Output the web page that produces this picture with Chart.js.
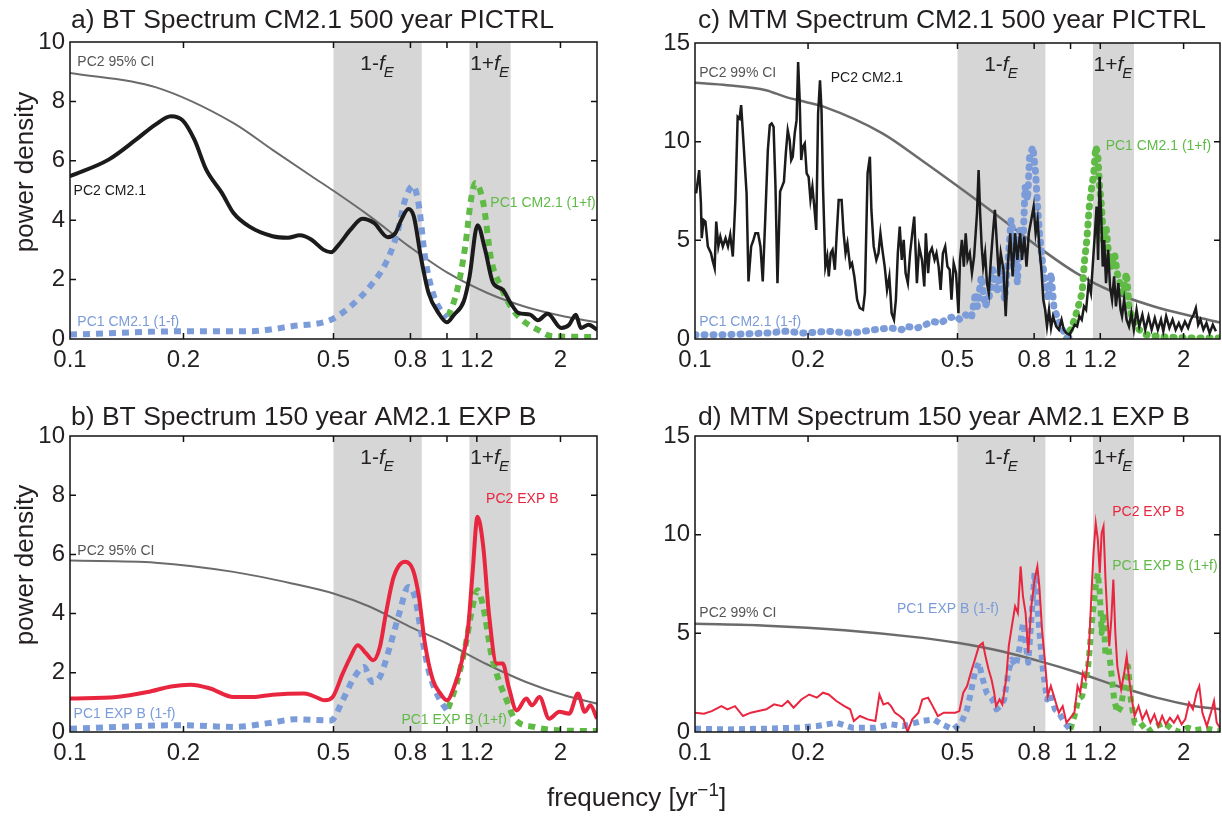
<!DOCTYPE html>
<html lang="en">
<head>
  <meta charset="UTF-8" />
  <title>BT and MTM spectra</title>
  <script src="https://cdn.jsdelivr.net/npm/chart.js"></script>
  <style>
    body { margin: 0; background: #fff; }
    #wrap { position: relative; width: 1222px; height: 825px; overflow: hidden; }
    #wrap canvas { position: absolute; }
    #xlabel {
      position: absolute; left: 547px; top: 782px;
      font: 26px "Liberation Sans", Arial, sans-serif; line-height: 30px; color: #231f20;
      white-space: nowrap;
    }
    #xlabel sup { font-size: 19px; line-height: 0; vertical-align: 10px; }
  </style>
</head>
<body>
  <div id="wrap">
    <canvas id="pa" width="611" height="390" style="left:0;top:0"></canvas>
    <canvas id="pc" width="611" height="390" style="left:611px;top:0"></canvas>
    <canvas id="pb" width="611" height="390" style="left:0;top:390px"></canvas>
    <canvas id="pd" width="611" height="390" style="left:611px;top:390px"></canvas>
    <div id="xlabel">frequency [yr<sup>−1</sup>]</div>
  </div>

  <script>
    // axis ticks and the two shaded bands (1-fE, 1+fE)
    const freqTicks = [0.1, 0.2, 0.5, 0.8, 1, 1.2, 2];
    const bandMinus = [0.5, 0.857];
    const bandPlus = [1.147, 1.475];

    // a) BT spectrum CM2.1 500 yr PICTRL
    const aPc2Freq = [0.1, 0.1266, 0.1496, 0.1685, 0.1854, 0.199, 0.2138, 0.2298, 0.2528, 0.2715,
      0.2986, 0.3445, 0.379, 0.4071, 0.4374, 0.4697, 0.4926, 0.5166, 0.5549, 0.5961,
      0.6403, 0.6965, 0.7298, 0.7568, 0.7898, 0.8166, 0.852, 0.8935, 0.949, 1.0,
      1.044, 1.108, 1.148, 1.205, 1.262, 1.325, 1.406, 1.475, 1.546, 1.662,
      1.742, 1.849, 2.01, 2.109, 2.197, 2.265, 2.376, 2.5];
    const aPc2 = [5.48, 6.04, 6.71, 7.22, 7.50, 7.36, 6.71, 5.70, 4.92, 4.24,
      3.79, 3.46, 3.41, 3.49, 3.34, 3.01, 2.92, 3.18, 3.68, 4.05,
      3.91, 3.43, 3.57, 4.02, 4.38, 4.13, 2.78, 1.55, 0.88, 0.56,
      0.82, 1.27, 2.11, 3.83, 3.01, 1.89, 1.66, 1.21, 0.88, 0.82,
      0.63, 0.85, 0.37, 0.48, 0.82, 0.37, 0.48, 0.31];
    const aPc1mFreq = [0.1, 0.199, 0.2986, 0.3878, 0.4926, 0.5549, 0.6247, 0.6885, 0.7383, 0.7743,
      0.8128, 0.8426, 0.874, 0.9177, 0.9718, 1.0];
    const aPc1m = [0.15, 0.26, 0.26, 0.43, 0.65, 1.1, 1.77, 2.56, 3.57, 4.69,
      5.16, 4.47, 2.78, 1.55, 0.88, 0.71];
    const aPc1pFreq = [1.007, 1.06, 1.118, 1.158, 1.19, 1.248, 1.31, 1.389, 1.475, 1.58, 1.742, 1.91, 2.5];
    const aPc1p = [0.76, 1.55, 3.12, 4.69, 5.25, 4.58, 2.67, 1.77, 1.1, 0.65, 0.31, 0.09, 0.07];
    const aCiFreq = [0.1, 0.1685, 0.2715, 0.3445, 0.4374, 0.5, 0.6247, 0.793, 1.0, 1.28, 1.62, 2.05, 2.5];
    const aCi = [8.96, 8.48, 7.27, 6.37, 5.48, 4.99, 4.13, 3.12, 2.24, 1.55, 1.08, 0.76, 0.56];

    // b) BT spectrum 150 yr AM2.1 EXP B
    const bPc2Freq = [0.1, 0.1328, 0.1606, 0.1854, 0.2088, 0.2353, 0.2715, 0.3057, 0.3445, 0.4168,
      0.4374, 0.4745, 0.4976, 0.5288, 0.5549, 0.5793, 0.6105, 0.6372, 0.6636, 0.6885,
      0.7222, 0.7743, 0.8128, 0.8426, 0.874, 0.9177, 0.9604, 1.0, 1.044, 1.096,
      1.136, 1.169, 1.205, 1.248, 1.292, 1.355, 1.406, 1.458, 1.53, 1.623,
      1.681, 1.76, 1.866, 1.988, 2.109, 2.226, 2.32, 2.4, 2.5];
    const bPc2 = [1.13, 1.18, 1.35, 1.54, 1.60, 1.47, 1.18, 1.18, 1.26, 1.30,
      1.24, 1.07, 1.18, 1.97, 2.54, 2.93, 2.65, 2.42, 2.87, 4.00,
      5.24, 5.75, 5.47, 4.57, 2.99, 1.75, 1.30, 1.07, 1.52, 2.42,
      3.44, 5.36, 7.27, 6.26, 4.00, 2.31, 2.31, 1.52, 0.73, 1.13,
      0.90, 1.18, 0.45, 0.68, 0.62, 1.30, 0.68, 0.90, 0.45];
    const bPc1mFreq = [0.1, 0.199, 0.2715, 0.3364, 0.3975, 0.4926, 0.5288, 0.5681, 0.603, 0.6326,
      0.6636, 0.705, 0.747, 0.7898, 0.8216, 0.852, 0.8935, 0.949, 1.0];
    const bPc1m = [0.11, 0.23, 0.17, 0.30, 0.43, 0.39, 1.07, 1.86, 2.20, 1.69,
      1.86, 2.87, 4.00, 4.90, 4.57, 3.44, 2.09, 1.18, 0.73];
    const bPc1pFreq = [1.007, 1.06, 1.118, 1.169, 1.205, 1.248, 1.31, 1.372, 1.44, 1.51, 1.70, 1.96, 2.5];
    const bPc1p = [0.79, 1.63, 2.87, 4.23, 4.79, 4.23, 2.65, 1.75, 1.07, 0.45, 0.17, 0.06, 0.03];
    const bCiFreq = [0.1, 0.1685, 0.2715, 0.3878, 0.5, 0.6247, 0.793, 1.0, 1.28, 1.62, 2.05, 2.5];
    const bCi = [5.79, 5.72, 5.41, 5.02, 4.68, 4.23, 3.57, 2.99, 2.28, 1.69, 1.24, 0.96];

    // c) MTM spectrum CM2.1 500 yr PICTRL
    const cPc2Freq = [0.1007, 0.1026, 0.1037, 0.1042, 0.1054, 0.1066, 0.1082, 0.1103, 0.1113, 0.1128,
      0.1139, 0.1154, 0.1168, 0.1186, 0.1206, 0.1224, 0.1241, 0.1261, 0.1281, 0.1299,
      0.1314, 0.1327, 0.1345, 0.1372, 0.1388, 0.1411, 0.1431, 0.1448, 0.1472, 0.1494,
      0.1515, 0.1538, 0.1563, 0.1582, 0.1600, 0.1619, 0.1638, 0.1658, 0.1685, 0.1705,
      0.1725, 0.1745, 0.1766, 0.1787, 0.1804, 0.1821, 0.1843, 0.1864, 0.1882, 0.1900,
      0.1918, 0.1937, 0.1960, 0.1983, 0.2007, 0.2030, 0.2054, 0.2078, 0.2103, 0.2127,
      0.2152, 0.2172, 0.2192, 0.2224, 0.2250, 0.2271, 0.2298, 0.2324, 0.2357, 0.2385,
      0.2413, 0.2457, 0.2487, 0.2517, 0.2546, 0.2589, 0.2619, 0.2656, 0.2702, 0.2747,
      0.2801, 0.2834, 0.2881, 0.2922, 0.2949, 0.2991, 0.3040, 0.3080, 0.3117, 0.3155,
      0.3200, 0.3246, 0.3292, 0.3339, 0.3387, 0.3427, 0.3468, 0.3509, 0.3553, 0.3595,
      0.3637, 0.3688, 0.3739, 0.3790, 0.3835, 0.3898, 0.3952, 0.4022, 0.4079, 0.4118,
      0.4176, 0.4215, 0.4274, 0.4344, 0.4396, 0.4454, 0.4508, 0.4572, 0.4637, 0.4701,
      0.4766, 0.4819, 0.4884, 0.4956, 0.5029, 0.5077, 0.5137, 0.5198, 0.5258, 0.5318,
      0.5391, 0.5463, 0.5536, 0.5635, 0.5690, 0.5744, 0.5799, 0.5853, 0.5921, 0.5990,
      0.6058, 0.6135, 0.6212, 0.6288, 0.6364, 0.6441, 0.6518, 0.6628, 0.6720, 0.6804,
      0.6908, 0.7011, 0.7115, 0.7218, 0.7339, 0.7426, 0.7529, 0.7633, 0.7742, 0.7859,
      0.7975, 0.8073, 0.8170, 0.8267, 0.8365, 0.8462, 0.8559, 0.8654, 0.8763, 0.8872,
      0.8982, 0.9157, 0.9310, 0.9464, 0.9595, 0.9744, 0.9916, 1.011, 1.026, 1.041,
      1.056, 1.071, 1.086, 1.100, 1.117, 1.133, 1.150, 1.161, 1.173, 1.184,
      1.195, 1.206, 1.218, 1.229, 1.243, 1.259, 1.274, 1.290, 1.306, 1.321,
      1.340, 1.359, 1.371, 1.389, 1.410, 1.431, 1.452, 1.474, 1.499, 1.524,
      1.553, 1.581, 1.613, 1.644, 1.676, 1.708, 1.741, 1.766, 1.797, 1.833,
      1.869, 1.905, 1.942, 1.975, 2.016, 2.056, 2.091, 2.126, 2.156, 2.187,
      2.218, 2.258, 2.301, 2.346, 2.392, 2.438];
    const cPc2 = [7.38, 8.56, 6.88, 5.11, 6.03, 5.95, 4.69, 4.35, 4.01, 3.59,
      5.95, 4.69, 5.19, 4.69, 5.11, 4.69, 5.28, 4.18, 7.05, 11.26,
      11.17, 11.85, 10.08, 7.38, 2.92, 4.69, 5.02, 5.36, 5.36, 4.69,
      2.92, 6.03, 9.57, 10.84, 10.92, 10.75, 7.72, 2.83, 7.47, 7.72,
      7.97, 9.41, 10.58, 10.08, 9.07, 9.24, 10.42, 11.09, 14.04, 12.10,
      9.07, 9.74, 9.91, 8.39, 8.22, 7.05, 7.72, 6.71, 5.53, 11.43,
      13.11, 11.60, 7.72, 3.67, 4.18, 3.17, 4.35, 4.52, 3.51, 5.36,
      7.05, 7.05, 5.36, 4.35, 4.85, 3.67, 3.84, 3.17, 1.99, 1.57,
      1.48, 2.33, 8.39, 9.24, 6.54, 4.69, 4.01, 4.35, 5.36, 4.52,
      3.67, 2.49, 3.17, 1.31, 0.98, 1.99, 4.35, 5.70, 4.01, 5.02,
      3.34, 2.83, 4.35, 5.36, 6.20, 2.83, 4.69, 4.01, 2.66, 5.36,
      3.34, 4.35, 4.60, 4.01, 4.35, 3.67, 2.49, 4.35, 4.69, 3.67,
      3.51, 1.99, 3.84, 3.34, 1.31, 4.01, 5.02, 3.67, 5.36, 4.01,
      4.35, 3.34, 4.18, 6.37, 8.56, 6.37, 4.69, 3.67, 4.35, 2.83,
      2.33, 4.01, 5.36, 6.54, 4.85, 3.17, 4.35, 3.51, 1.15, 3.67,
      5.36, 3.17, 5.36, 4.01, 5.36, 4.01, 5.19, 3.67, 5.36, 6.03,
      6.71, 5.36, 6.03, 4.52, 3.51, 1.99, 1.48, 0.64, 1.48, 0.56,
      1.15, 0.64, 0.47, 0.98, 0.47, 0.30, 0.22, 0.47, 0.72, 0.64,
      1.15, 0.98, 1.65, 1.48, 2.83, 2.33, 4.18, 5.36, 6.71, 4.01,
      8.22, 6.37, 3.67, 5.02, 2.83, 4.52, 2.66, 1.99, 3.17, 1.65,
      2.83, 1.48, 1.15, 1.99, 0.98, 0.64, 1.31, 0.47, 1.48, 0.64,
      1.23, 0.47, 1.15, 0.47, 1.06, 0.47, 0.98, 0.39, 1.15, 0.56,
      0.98, 0.47, 0.81, 0.47, 0.89, 0.56, 0.98, 1.23, 1.57, 0.72,
      0.98, 0.47, 0.81, 0.30, 0.72, 0.39];
    const cPc1mFreq = [0.1000, 0.1218, 0.1545, 0.1741, 0.1960, 0.2261, 0.2606, 0.3007, 0.3311, 0.3553,
      0.3637, 0.3909, 0.4098, 0.4293, 0.4508, 0.4724, 0.4956, 0.5077, 0.5258, 0.5445,
      0.5581, 0.5649, 0.5785, 0.5921, 0.6058, 0.6212, 0.6364, 0.6518, 0.6674, 0.6821,
      0.6943, 0.7080, 0.7218, 0.7339, 0.7460, 0.7564, 0.7684, 0.7781, 0.7936, 0.8073,
      0.8170, 0.8267, 0.8403, 0.8559, 0.8720, 0.8872, 0.9026, 0.9201, 0.9420, 0.9746, 0.9916];
    const cPc1m = [0.22, 0.22, 0.30, 0.39, 0.30, 0.39, 0.30, 0.47, 0.56, 0.47,
      0.64, 0.56, 0.72, 0.89, 0.81, 1.06, 1.15, 0.98, 1.23, 1.06,
      2.33, 1.65, 3.17, 1.65, 1.99, 3.51, 2.33, 3.67, 1.99, 4.01,
      6.03, 5.02, 2.83, 5.70, 4.35, 7.72, 7.05, 9.24, 9.74, 8.39,
      6.71, 5.36, 4.01, 2.83, 1.99, 3.34, 1.65, 1.15, 0.64, 0.13, 0.05];
    const cPc1pFreq = [0.9746, 0.9987, 1.024, 1.048, 1.073, 1.090, 1.105, 1.122, 1.139, 1.153,
      1.167, 1.181, 1.195, 1.209, 1.223, 1.243, 1.262, 1.284, 1.309, 1.331,
      1.355, 1.382, 1.408, 1.432, 1.463, 1.524, 1.589, 1.755, 2.116, 2.5];
    const cPc1p = [0.0, 0.47, 0.98, 1.65, 2.33, 4.01, 5.02, 6.71, 7.72, 8.39,
      9.74, 9.41, 7.72, 6.71, 5.02, 5.70, 4.35, 3.67, 4.35, 3.34,
      2.83, 2.33, 3.34, 1.65, 0.98, 0.47, 0.22, 0.10, 0.05, 0.05];
    const cCiFreq = [0.1, 0.1218, 0.1545, 0.1741, 0.196, 0.2208, 0.3155, 0.4003, 0.4956, 0.6441,
      0.817, 1.036, 1.315, 1.668, 2.116, 2.5];
    const cCi = [12.98, 12.86, 12.61, 12.27, 12.02, 11.76, 10.42, 9.07, 7.80, 6.20,
      4.69, 3.34, 2.33, 1.65, 1.15, 0.84];

    // d) MTM spectrum 150 yr AM2.1 EXP B
    const dPc2Freq = [0.1000, 0.1056, 0.1108, 0.1176, 0.1220, 0.1278, 0.1342, 0.1408, 0.1475, 0.1549,
      0.1624, 0.1704, 0.1767, 0.1830, 0.1920, 0.2014, 0.2111, 0.2191, 0.2270, 0.2379,
      0.2499, 0.2589, 0.2648, 0.2749, 0.2883, 0.3022, 0.3098, 0.3174, 0.3265, 0.3327,
      0.3405, 0.3508, 0.3593, 0.3679, 0.3789, 0.3934, 0.4030, 0.4175, 0.4270, 0.4433,
      0.4596, 0.4760, 0.4934, 0.5056, 0.5180, 0.5303, 0.5425, 0.5563, 0.5702, 0.5839,
      0.5936, 0.6050, 0.6160, 0.6262, 0.6332, 0.6472, 0.6581, 0.6737, 0.6847, 0.6977,
      0.7117, 0.7240, 0.7363, 0.7469, 0.7591, 0.7716, 0.7863, 0.8020, 0.8159, 0.8258,
      0.8396, 0.8555, 0.8698, 0.8861, 0.9084, 0.9307, 0.9530, 0.9753, 0.9988, 1.024,
      1.044, 1.061, 1.079, 1.097, 1.118, 1.137, 1.151, 1.167, 1.182, 1.196,
      1.210, 1.224, 1.239, 1.252, 1.268, 1.284, 1.300, 1.316, 1.332, 1.364,
      1.390, 1.411, 1.429, 1.456, 1.481, 1.517, 1.553, 1.592, 1.632, 1.672,
      1.713, 1.754, 1.793, 1.839, 1.884, 1.930, 1.976, 2.020, 2.068, 2.117,
      2.166, 2.202, 2.244, 2.306, 2.364, 2.410, 2.450, 2.499];
    const dPc2 = [0.98, 0.93, 1.06, 1.31, 1.15, 1.31, 0.81, 0.98, 1.06, 1.15,
      1.40, 1.31, 1.57, 1.23, 1.65, 1.90, 1.74, 1.99, 1.90, 1.57,
      1.31, 1.15, 0.56, 0.81, 0.64, 0.56, 1.90, 1.40, 1.48, 1.31,
      0.98, 0.81, 0.64, 0.0, 0.64, 0.98, 1.65, 1.74, 1.40, 0.81,
      0.98, 0.98, 0.98, 1.06, 1.99, 2.33, 3.00, 3.67, 4.35, 4.52,
      3.84, 3.17, 2.66, 1.99, 1.31, 1.65, 1.40, 2.66, 4.35, 5.36,
      6.37, 6.03, 8.39, 6.88, 6.03, 4.01, 6.37, 7.72, 8.39, 7.38,
      5.19, 3.51, 1.82, 2.33, 1.65, 0.98, 1.31, 0.47, 0.72, 0.98,
      2.33, 1.99, 3.00, 2.66, 4.01, 7.05, 9.07, 10.58, 9.74, 8.06,
      10.08, 10.42, 7.72, 6.03, 4.35, 5.70, 7.72, 5.02, 3.34, 2.16,
      3.00, 3.84, 2.83, 1.65, 0.81, 1.31, 0.64, 1.06, 0.47, 0.89,
      0.30, 0.81, 0.39, 0.72, 0.47, 0.81, 0.39, 0.64, 1.48, 1.15,
      1.99, 2.33, 0.98, 0.30, 0.98, 1.57, 0.47, 0.22];
    const dPc1mFreq = [0.1000, 0.1220, 0.1549, 0.1873, 0.2111, 0.2379, 0.2621, 0.3022, 0.3327, 0.3576,
      0.4030, 0.4322, 0.4542, 0.4873, 0.5118, 0.5303, 0.5425, 0.5563, 0.5702, 0.5839,
      0.5978, 0.6191, 0.6347, 0.6503, 0.6659, 0.6819, 0.6977, 0.7153, 0.7328, 0.7469,
      0.7591, 0.7716, 0.7863, 0.8020, 0.8159, 0.8298, 0.8456, 0.8659, 0.8861, 0.9084,
      0.9307, 0.9642, 0.9988];
    const dPc1m = [0.17, 0.13, 0.17, 0.22, 0.30, 0.47, 0.22, 0.22, 0.39, 0.30,
      0.56, 0.64, 0.39, 0.13, 0.47, 1.15, 1.99, 3.00, 3.51, 2.66,
      1.99, 1.65, 1.15, 1.31, 1.65, 3.00, 3.67, 3.34, 4.35, 5.53,
      4.52, 3.51, 5.70, 8.06, 6.37, 4.69, 3.00, 1.65, 1.99, 1.15,
      0.98, 0.47, 0.13];
    const dPc1pFreq = [0.9988, 1.024, 1.049, 1.074, 1.094, 1.112, 1.130, 1.146, 1.167, 1.182,
      1.196, 1.210, 1.224, 1.239, 1.261, 1.284, 1.306, 1.332, 1.364, 1.396,
      1.423, 1.447, 1.481, 1.534, 1.604, 1.693, 1.776, 1.866, 1.955, 2.050,
      2.149, 2.306, 2.499];
    const dPc1p = [0.13, 0.81, 1.65, 1.82, 2.66, 3.17, 4.69, 6.03, 7.38, 8.06,
      7.05, 5.02, 6.03, 3.84, 4.35, 3.00, 1.65, 0.98, 1.31, 2.66,
      3.34, 1.65, 0.47, 0.47, 0.0, 0.30, 0.47, 0.13, 0.0, 0.22,
      0.10, 0.17, 0.05];
    const dCiFreq = [0.1, 0.1549, 0.2499, 0.4030, 0.4996, 0.6503, 0.8258, 1.049, 1.332, 1.693, 2.149, 2.499];
    const dCi = [5.48, 5.39, 5.16, 4.77, 4.52, 4.10, 3.59, 3.00, 2.33, 1.74, 1.31, 1.15];

    // colours
    const BLACK = '#1b1b1b', BLUE = '#7b9cd9', GREEN = '#5fba46', RED = '#e9263f';
    const GRAY = '#6b6b6b', SHADE = '#d6d6d6', TEXT = '#231f20';
    const FONT = '"Liberation Sans", Arial, sans-serif';

    const pts = (fs, vs) => fs.map((f, i) => ({ x: f, y: vs[i] }));

    function solid(fs, vs, color, width, smooth) {
      return { data: pts(fs, vs), borderColor: color, borderWidth: width,
        cubicInterpolationMode: smooth ? 'monotone' : 'default', tension: 0 };
    }
    function dotted(fs, vs, color, width, dash, cap, smooth) {
      return { data: pts(fs, vs), borderColor: color, borderWidth: width, borderDash: dash,
        borderCapStyle: cap, borderJoinStyle: 'round',
        cubicInterpolationMode: smooth ? 'monotone' : 'default', tension: 0 };
    }

    // draws "1-fE" style band labels, f italic with subscript E
    function bandLabel(ctx, pre, cx, baseY) {
      ctx.font = '21px ' + FONT;
      const w1 = ctx.measureText(pre).width;
      ctx.font = 'italic 21px ' + FONT;
      const w2 = ctx.measureText('f').width;
      ctx.font = 'italic 15px ' + FONT;
      const w3 = ctx.measureText('E').width;
      let x = cx - (w1 + w2 + w3) / 2;
      ctx.fillStyle = TEXT;
      ctx.textAlign = 'left';
      ctx.textBaseline = 'alphabetic';
      ctx.font = '21px ' + FONT;
      ctx.fillText(pre, x, baseY);
      x += w1;
      ctx.font = 'italic 21px ' + FONT;
      ctx.fillText('f', x, baseY);
      x += w2;
      ctx.font = 'italic 15px ' + FONT;
      ctx.fillText('E', x - 1, baseY + 7);
    }

    function decoPlugin(cfg) {
      return {
        id: 'deco',
        beforeDatasetsDraw(chart) {
          const { ctx, chartArea: a, scales: { x } } = chart;
          ctx.save();
          ctx.fillStyle = SHADE;
          [bandMinus, bandPlus].forEach(([lo, hi]) => {
            const x0 = x.getPixelForValue(lo), x1 = x.getPixelForValue(hi);
            ctx.fillRect(x0, a.top, x1 - x0, a.bottom - a.top);
          });
          ctx.restore();
        },
        afterDatasetsDraw(chart) {
          const { ctx, chartArea: a, scales: { x, y } } = chart;
          ctx.save();
          // series labels
          cfg.labels.forEach(l => {
            ctx.font = '14px ' + FONT;
            ctx.fillStyle = l.c;
            ctx.textAlign = 'left';
            ctx.textBaseline = 'middle';
            ctx.fillText(l.t, x.getPixelForValue(l.x), y.getPixelForValue(l.y));
          });
          // band labels
          const gm = Math.sqrt(bandMinus[0] * bandMinus[1]);
          const gp = Math.sqrt(bandPlus[0] * bandPlus[1]);
          bandLabel(ctx, '1-', x.getPixelForValue(gm), a.top + 28);
          bandLabel(ctx, '1+', x.getPixelForValue(gp), a.top + 28);

          // frame with inward ticks
          ctx.strokeStyle = '#111';
          ctx.lineWidth = 1.5;
          ctx.strokeRect(a.left, a.top, a.right - a.left, a.bottom - a.top);
          ctx.beginPath();
          freqTicks.forEach(v => {
            const px = x.getPixelForValue(v);
            if (px <= a.left + 1) return;
            ctx.moveTo(px, a.bottom); ctx.lineTo(px, a.bottom - 6);
            ctx.moveTo(px, a.top); ctx.lineTo(px, a.top + 6);
          });
          y.ticks.forEach(t => {
            const py = y.getPixelForValue(t.value);
            if (py >= a.bottom - 1 || py <= a.top + 1) return;
            ctx.moveTo(a.left, py); ctx.lineTo(a.left + 6, py);
            ctx.moveTo(a.right, py); ctx.lineTo(a.right - 6, py);
          });
          ctx.stroke();
          ctx.restore();
        },
        afterDraw(chart) {
          const { ctx, chartArea: a } = chart;
          ctx.save();
          ctx.fillStyle = TEXT;
          ctx.font = '26.5px ' + FONT;
          ctx.textAlign = 'left';
          ctx.textBaseline = 'alphabetic';
          ctx.fillText(cfg.title, cfg.titleX, cfg.titleY);
          if (cfg.yTitle) {
            ctx.translate(26, cfg.yTitleY);
            ctx.rotate(-Math.PI / 2);
            ctx.textAlign = 'center';
            ctx.textBaseline = 'middle';
            ctx.font = '26px ' + FONT;
            ctx.fillText('power density', 0, 0);
          }
          ctx.restore();
        }
      };
    }

    function makeChart(id, cfg) {
      const tickFont = { family: FONT, size: 24 };
      return new Chart(document.getElementById(id), {
        type: 'line',
        data: { datasets: cfg.datasets },
        options: {
          responsive: false,
          animation: false,
          devicePixelRatio: 1,
          layout: { padding: { left: 0, top: cfg.top, right: cfg.right, bottom: 0 } },
          plugins: { legend: { display: false }, tooltip: { enabled: false } },
          elements: { point: { radius: 0 } },
          scales: {
            x: {
              type: 'logarithmic', min: 0.1, max: 2.5,
              afterBuildTicks: s => { s.ticks = freqTicks.map(v => ({ value: v })); },
              afterFit: s => { s.height = cfg.xH; },
              grid: { display: false, drawTicks: false }, border: { display: false },
              ticks: { font: tickFont, color: TEXT, padding: 7, autoSkip: false, maxRotation: 0,
                callback: v => String(v) }
            },
            y: {
              min: 0, max: cfg.yMax,
              afterFit: s => { s.width = cfg.yW; },
              grid: { display: false, drawTicks: false }, border: { display: false },
              ticks: { font: tickFont, color: TEXT, padding: 5, stepSize: cfg.yStep }
            }
          }
        },
        plugins: [decoPlugin(cfg)]
      });
    }

    // a)
    makeChart('pa', {
      top: 42, right: 14, xH: 51, yW: 70, yMax: 10, yStep: 2,
      title: 'a) BT Spectrum CM2.1 500 year PICTRL', titleX: 71, titleY: 28,
      yTitle: true, yTitleY: 172,
      datasets: [
        solid(aPc2Freq, aPc2, BLACK, 4, true),
        dotted(aPc1mFreq, aPc1m, BLUE, 6, [7, 6], 'butt', true),
        dotted(aPc1pFreq, aPc1p, GREEN, 6, [7, 6], 'butt', true),
        solid(aCiFreq, aCi, GRAY, 2, true)
      ],
      labels: [
        { t: 'PC2 95% CI', x: 0.1046, y: 9.33, c: '#555' },
        { t: 'PC2 CM2.1', x: 0.1022, y: 4.97, c: BLACK },
        { t: 'PC1 CM2.1 (1-f)', x: 0.1046, y: 0.56, c: BLUE },
        { t: 'PC1 CM2.1 (1+f)', x: 1.303, y: 4.58, c: GREEN }
      ]
    });

    // b)
    makeChart('pb', {
      top: 46, right: 14, xH: 48, yW: 70, yMax: 10, yStep: 2,
      title: 'b) BT Spectrum 150 year AM2.1 EXP B', titleX: 71, titleY: 35,
      yTitle: true, yTitleY: 175,
      datasets: [
        solid(bPc2Freq, bPc2, RED, 4, true),
        dotted(bPc1mFreq, bPc1m, BLUE, 6, [7, 6], 'butt', true),
        dotted(bPc1pFreq, bPc1p, GREEN, 6, [7, 6], 'butt', true),
        solid(bCiFreq, bCi, GRAY, 2, true)
      ],
      labels: [
        { t: 'PC2 95% CI', x: 0.1046, y: 6.12, c: '#555' },
        { t: 'PC1 EXP B (1-f)', x: 0.1022, y: 0.62, c: BLUE },
        { t: 'PC2 EXP B', x: 1.27, y: 7.86, c: RED },
        { t: 'PC1 EXP B (1+f)', x: 0.757, y: 0.39, c: GREEN }
      ]
    });

    // c)
    makeChart('pc', {
      top: 43, right: 2, xH: 51, yW: 84, yMax: 15, yStep: 5,
      title: 'c) MTM Spectrum CM2.1 500 year PICTRL', titleX: 87, titleY: 28,
      yTitle: false,
      datasets: [
        solid(cPc2Freq, cPc2, BLACK, 2.5, false),
        dotted(cPc1mFreq, cPc1m, BLUE, 7, [1, 8], 'round', false),
        dotted(cPc1pFreq, cPc1p, GREEN, 7, [1, 8], 'round', false),
        solid(cCiFreq, cCi, GRAY, 2.5, true)
      ],
      labels: [
        { t: 'PC2 99% CI', x: 0.1026, y: 13.48, c: '#555' },
        { t: 'PC2 CM2.1', x: 0.2298, y: 13.2, c: BLACK },
        { t: 'PC1 CM2.1 (1-f)', x: 0.1026, y: 0.84, c: BLUE },
        { t: 'PC1 CM2.1 (1+f)', x: 1.24, y: 9.79, c: GREEN }
      ]
    });

    // d)
    makeChart('pd', {
      top: 46, right: 2, xH: 48, yW: 84, yMax: 15, yStep: 5,
      title: 'd) MTM Spectrum 150 year AM2.1 EXP B', titleX: 87, titleY: 35,
      yTitle: false,
      datasets: [
        solid(dPc2Freq, dPc2, RED, 2, false),
        dotted(dPc1mFreq, dPc1m, BLUE, 6, [6, 5], 'butt', false),
        dotted(dPc1pFreq, dPc1p, GREEN, 6, [6, 5], 'butt', false),
        solid(dCiFreq, dCi, GRAY, 2.5, true)
      ],
      labels: [
        { t: 'PC2 99% CI', x: 0.1027, y: 6.03, c: '#555' },
        { t: 'PC1 EXP B (1-f)', x: 0.345, y: 6.24, c: BLUE },
        { t: 'PC2 EXP B', x: 1.291, y: 11.14, c: RED },
        { t: 'PC1 EXP B (1+f)', x: 1.291, y: 8.43, c: GREEN }
      ]
    });
  </script>
</body>
</html>
